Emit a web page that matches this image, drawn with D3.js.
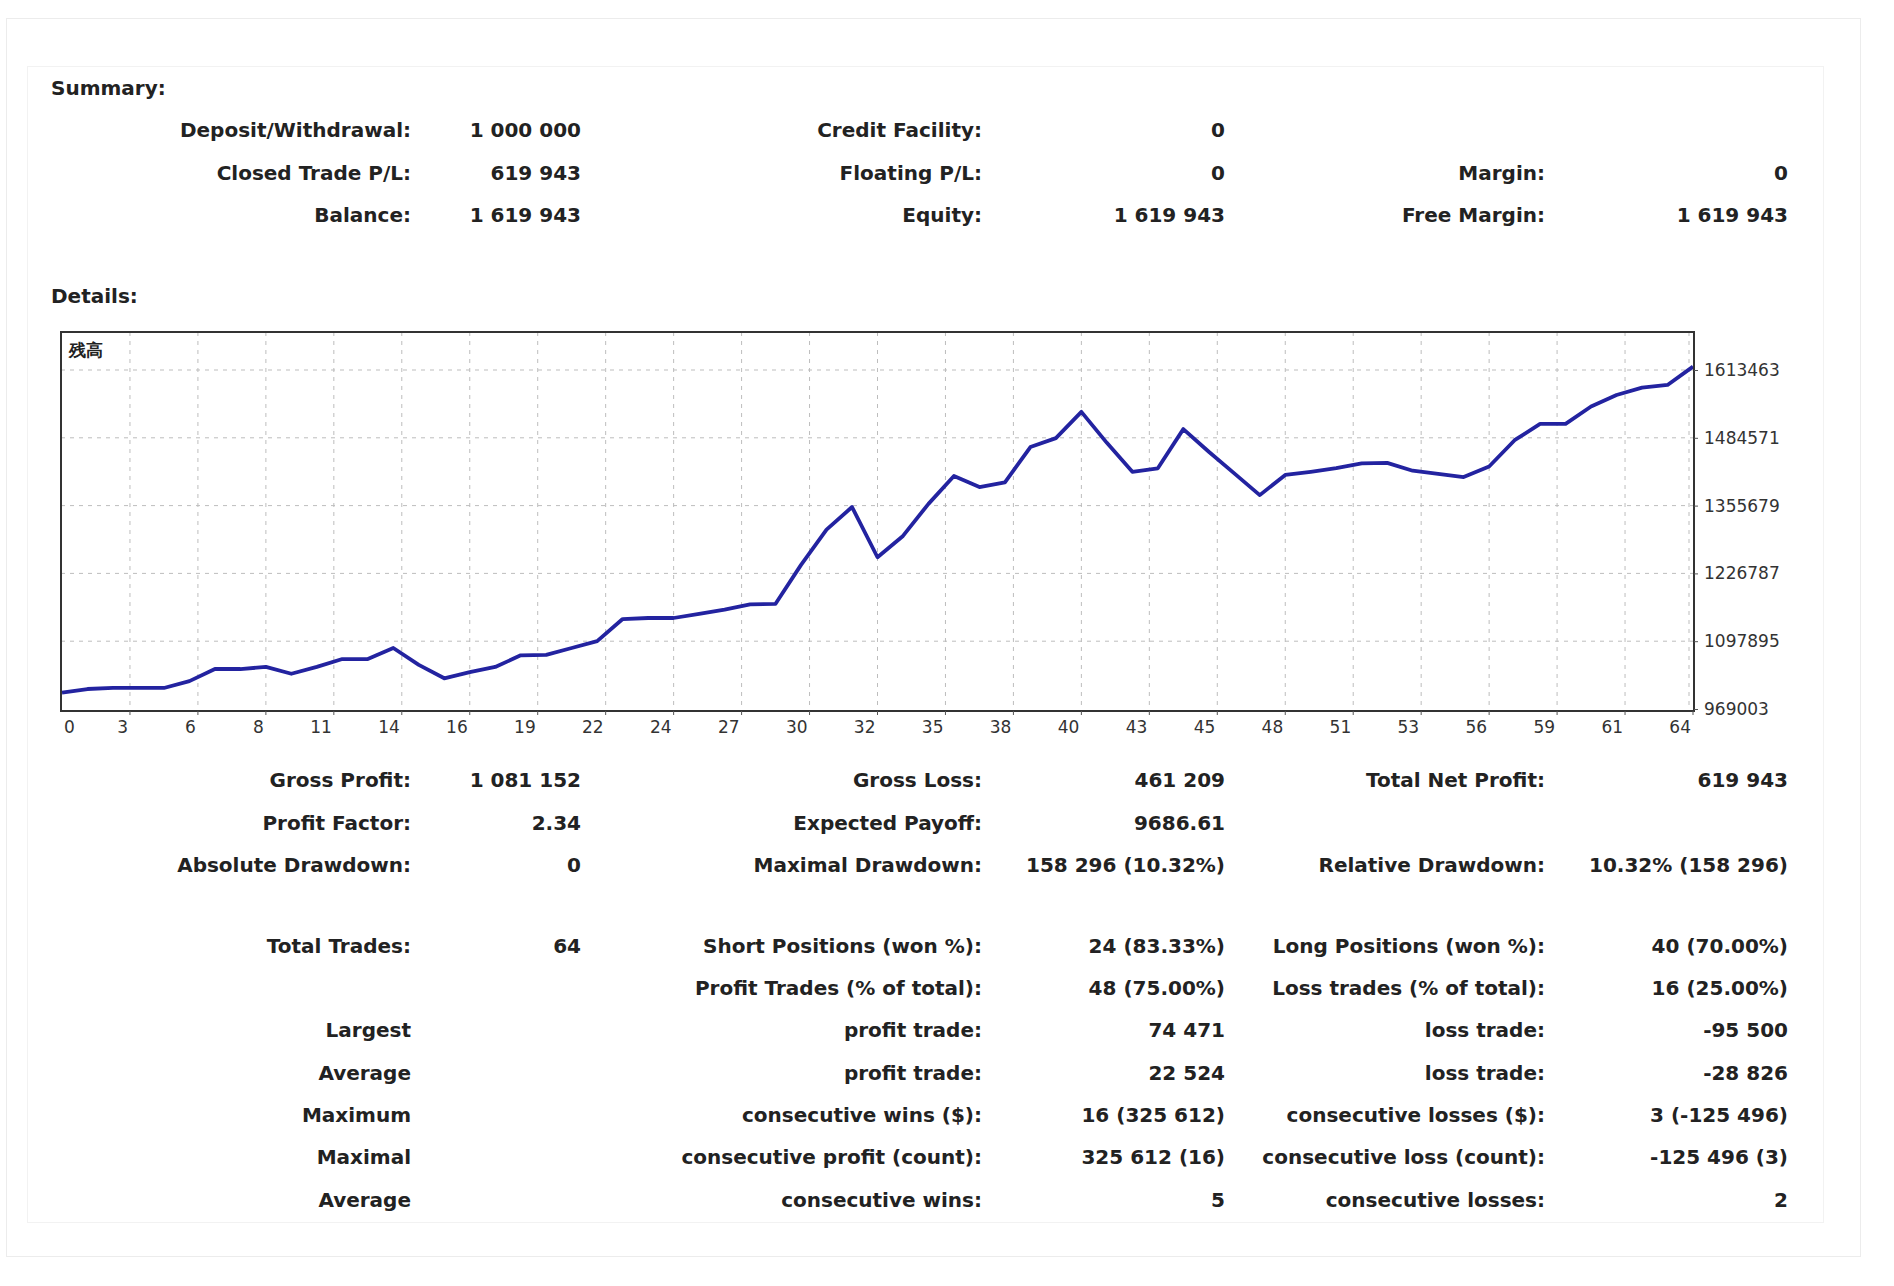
<!DOCTYPE html>
<html>
<head>
<meta charset="utf-8">
<script src="https://cdn.jsdelivr.net/npm/d3@7"></script>
<style>
  body { margin: 0; background: #fff; }
  text { font-family: "DejaVu Sans", sans-serif; }
</style>
</head>
<body>
<div id="chart-area"></div>
<script>
// balance after each trade (0..64)
const balance = [
    1000000, 1007000, 1009000, 1009000, 1009000, 1022000, 1045000, 1045000, 1049000, 1036000,
    1049000, 1064000, 1064000, 1085000, 1053000, 1027388, 1039000, 1049000, 1071000, 1072000,
    1085000, 1098000, 1140000, 1142000, 1142000, 1150000, 1158000, 1168000, 1169000, 1243000,
    1310000, 1353000, 1257500, 1298000, 1359000, 1412000, 1391000, 1400000, 1467000, 1484000,
    1533876, 1475000, 1420000, 1426605, 1501076, 1458000, 1417000, 1375580, 1414000, 1420000,
    1427000, 1436000, 1437000, 1422000, 1416000, 1410000, 1430000, 1480000, 1511000, 1511000,
    1544000, 1566000, 1580000, 1585000, 1619943
];
const yTicks = [969003, 1097895, 1226787, 1355679, 1484571, 1613463];
const xTickLabels = [0, 3, 6, 8, 11, 14, 16, 19, 22, 24, 27, 30, 32, 35, 38, 40, 43, 45, 48, 51, 53, 56, 59, 61, 64];
const seriesName = "残高";

const summaryRows = [
    [["Deposit/Withdrawal:", "1 000 000"], ["Credit Facility:", "0"], null],
    [["Closed Trade P/L:", "619 943"], ["Floating P/L:", "0"], ["Margin:", "0"]],
    [["Balance:", "1 619 943"], ["Equity:", "1 619 943"], ["Free Margin:", "1 619 943"]]
];
const detailRows = [
    [["Gross Profit:", "1 081 152"], ["Gross Loss:", "461 209"], ["Total Net Profit:", "619 943"]],
    [["Profit Factor:", "2.34"], ["Expected Payoff:", "9686.61"], null],
    [["Absolute Drawdown:", "0"], ["Maximal Drawdown:", "158 296 (10.32%)"], ["Relative Drawdown:", "10.32% (158 296)"]],
    [["Total Trades:", "64"], ["Short Positions (won %):", "24 (83.33%)"], ["Long Positions (won %):", "40 (70.00%)"]],
    [null, ["Profit Trades (% of total):", "48 (75.00%)"], ["Loss trades (% of total):", "16 (25.00%)"]],
    [["Largest", ""], ["profit trade:", "74 471"], ["loss trade:", "-95 500"]],
    [["Average", ""], ["profit trade:", "22 524"], ["loss trade:", "-28 826"]],
    [["Maximum", ""], ["consecutive wins ($):", "16 (325 612)"], ["consecutive losses ($):", "3 (-125 496)"]],
    [["Maximal", ""], ["consecutive profit (count):", "325 612 (16)"], ["consecutive loss (count):", "-125 496 (3)"]],
    [["Average", ""], ["consecutive wins:", "5"], ["consecutive losses:", "2"]]
];

const W = 1894, H = 1286;
const svg = d3.select("#chart-area").append("svg")
    .attr("width", W).attr("height", H);

// faint frames
svg.append("rect").attr("x", 6.5).attr("y", 18.5).attr("width", 1854).attr("height", 1238)
    .attr("fill", "none").attr("stroke", "#ececec");
svg.append("rect").attr("x", 27.5).attr("y", 66.5).attr("width", 1796).attr("height", 1156)
    .attr("fill", "none").attr("stroke", "#f2f2f2");

const labelX = [411, 982, 1545];
const valueX = [581, 1225, 1788];

function drawRows(rows, ys) {
    rows.forEach((row, r) => {
        row.forEach((cell, c) => {
            if (!cell) return;
            svg.append("text").attr("x", labelX[c]).attr("y", ys[r]).attr("dy", "0.36em")
                .attr("text-anchor", "end").attr("font-size", 20).attr("font-weight", "bold")
                .attr("fill", "#222").text(cell[0]);
            if (cell[1] !== "") {
                svg.append("text").attr("x", valueX[c]).attr("y", ys[r]).attr("dy", "0.36em")
                    .attr("text-anchor", "end").attr("font-size", 20).attr("font-weight", "bold")
                    .attr("fill", "#222").text(cell[1]);
            }
        });
    });
}

svg.append("text").attr("x", 51).attr("y", 88).attr("dy", "0.36em")
    .attr("font-size", 20).attr("font-weight", "bold").attr("fill", "#222").text("Summary:");
drawRows(summaryRows, [130, 173, 215]);

svg.append("text").attr("x", 51).attr("y", 296).attr("dy", "0.36em")
    .attr("font-size", 20).attr("font-weight", "bold").attr("fill", "#222").text("Details:");
drawRows(detailRows, [780, 823, 865, 946, 988, 1030, 1073, 1115, 1157, 1200]);

// chart
const plot = {left: 61, right: 1694, top: 332, bottom: 711};
const x = d3.scaleLinear().domain([0, balance.length - 1]).range([plot.left + 1, plot.right - 1]);
const y = d3.scaleLinear().domain([yTicks[0], yTicks[yTicks.length - 1]]).range([709, 370]);

const g = svg.append("g");
g.append("rect").attr("x", plot.left).attr("y", plot.top)
    .attr("width", plot.right - plot.left).attr("height", plot.bottom - plot.top)
    .attr("fill", "#fff");

// horizontal grid
g.selectAll(".hgrid").data(yTicks.slice(1)).enter().append("line")
    .attr("x1", plot.left).attr("x2", plot.right)
    .attr("y1", d => y(d)).attr("y2", d => y(d))
    .attr("stroke", "#bdbdbd").attr("stroke-dasharray", "4,5");

// vertical grid: evenly spaced across trade range
const nX = xTickLabels.length - 1;
const xPos = (d, i) => x(i * (balance.length - 1) / nX);
g.selectAll(".vgrid").data(xTickLabels.slice(1)).enter().append("line")
    .attr("x1", (d, i) => xPos(d, i + 1) - (i === nX - 1 ? 4 : 0))
    .attr("x2", (d, i) => xPos(d, i + 1) - (i === nX - 1 ? 4 : 0))
    .attr("y1", plot.top).attr("y2", plot.bottom)
    .attr("stroke", "#bdbdbd").attr("stroke-dasharray", "4,5");

// balance line
g.append("path").datum(balance)
    .attr("d", d3.line().x((d, i) => x(i)).y(d => y(d)))
    .attr("fill", "none").attr("stroke", "#2323a0").attr("stroke-width", 3.8)
    .attr("stroke-linejoin", "round");

// border
g.append("rect").attr("x", plot.left).attr("y", plot.top)
    .attr("width", plot.right - plot.left).attr("height", plot.bottom - plot.top)
    .attr("fill", "none").attr("stroke", "#333").attr("stroke-width", 2);

// right axis
const yAxis = d3.axisRight(y).tickValues(yTicks).tickFormat(d3.format("d")).tickSize(4).tickPadding(6);
const ya = g.append("g").attr("transform", `translate(${plot.right},0)`).call(yAxis);
ya.select(".domain").remove();
ya.selectAll("line").attr("stroke", "#555");
ya.selectAll("text").attr("font-family", "'DejaVu Sans Condensed', 'DejaVu Sans', sans-serif")
    .attr("font-size", 17).attr("fill", "#333");

// bottom labels
g.selectAll(".xlab").data(xTickLabels).enter().append("text")
    .attr("x", (d, i) => i === 0 ? plot.left + 3 : xPos(d, i) - 2)
    .attr("y", 727).attr("dy", "0.36em")
    .attr("text-anchor", (d, i) => i === 0 ? "start" : "end")
    .attr("font-family", "'DejaVu Sans Condensed', 'DejaVu Sans', sans-serif")
    .attr("font-size", 17).attr("fill", "#333").text(d => d);
g.selectAll(".xtick").data(xTickLabels.slice(1)).enter().append("line")
    .attr("x1", (d, i) => xPos(d, i + 1)).attr("x2", (d, i) => xPos(d, i + 1))
    .attr("y1", plot.bottom).attr("y2", plot.bottom + 4).attr("stroke", "#555");

g.append("text").attr("x", plot.left + 8).attr("y", 350).attr("dy", "0.36em")
    .attr("font-family", "'Noto Sans CJK JP', sans-serif").attr("font-size", 17)
    .attr("font-weight", "bold").attr("fill", "#222").text(seriesName);
</script>
</body>
</html>
